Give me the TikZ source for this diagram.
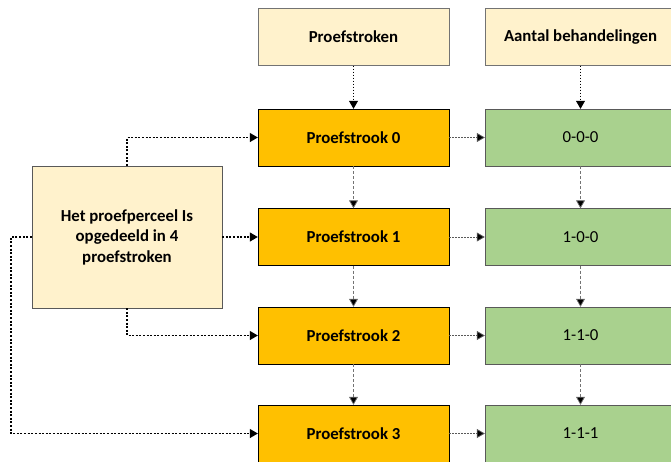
\documentclass[tikz,border=0pt]{standalone}
\usepackage{fontspec}
\setmainfont{Carlito}
\usepackage{tikz}
\usetikzlibrary{arrows.meta,positioning,calc}
\definecolor{kopgeel}{HTML}{FFF2CC}
\definecolor{strookoranje}{HTML}{FFC000}
\definecolor{behgroen}{HTML}{A9D18E}

\begin{document}
\begin{tikzpicture}[x=1pt,y=-1pt,
  every node/.style={font=\fontsize{16.8}{20.5}\selectfont, inner sep=0pt},
  kop/.style={draw=black!55, fill=kopgeel, minimum width=191pt, minimum height=57pt, font=\fontsize{16.8}{20.5}\selectfont\bfseries},
  strook/.style={draw=black, fill=strookoranje, minimum width=191pt, minimum height=57pt, font=\fontsize{16.8}{20.5}\selectfont\bfseries},
  behand/.style={draw=black!65, fill=behgroen, minimum width=191pt, minimum height=57pt},
  perceel/.style={draw=black!65, fill=kopgeel, minimum width=190pt, minimum height=142pt, align=center, font=\fontsize{16.8}{20.5}\selectfont\bfseries},
  dik/.style={line width=1.2pt, dash pattern=on 2pt off 1.6pt, -{Triangle[length=8pt,width=9pt]}},
  dun/.style={line width=0.8pt, dash pattern=on 1.5pt off 1.5pt, -{Triangle[length=8pt,width=9pt,fill=black]}},
  grijs/.style={black!55, line width=0.7pt, dash pattern=on 3pt off 2pt, -{Triangle[length=8pt,width=9pt,fill=black]}}]
\useasboundingbox (0,0) rectangle (671,461);

% kopjes
\node[kop] (kop1) at (353.5,37) {Proefstroken};
\node[kop] (kop2) at (580.5,37) {Aantal behandelingen};

% proefstroken en behandelingen
\foreach \i/\y/\b in {0/137.5/0-0-0, 1/237/1-0-0, 2/335.5/1-1-0, 3/433.5/1-1-1}{
  \node[strook] (s\i) at (353.5,\y) {Proefstrook \i};
  \node[behand] (b\i) at (580.5,\y) {\b};
  \draw[dun, black!65] (s\i) -- (b\i);
}

% proefperceel
\node[perceel] (perc) at (127,237) {Het proefperceel Is\\opgedeeld in 4\\proefstroken};
\coordinate (hoek) at (11,237);

\draw[dun] (kop1) -- (s0);
\draw[dun] (kop2) -- (b0);
\foreach \i/\j in {0/1,1/2,2/3}{
  \draw[grijs] (s\i) -- (s\j);
  \draw[grijs] (b\i) -- (b\j);
}

\draw[dik] (perc.north) |- (s0.west);
\draw[dik] (perc.east) -- (s1.west);
\draw[dik] (perc.south) |- (s2.west);
\draw[dik] (perc.west) -- (hoek) |- (s3.west);
\end{tikzpicture}
\end{document}
